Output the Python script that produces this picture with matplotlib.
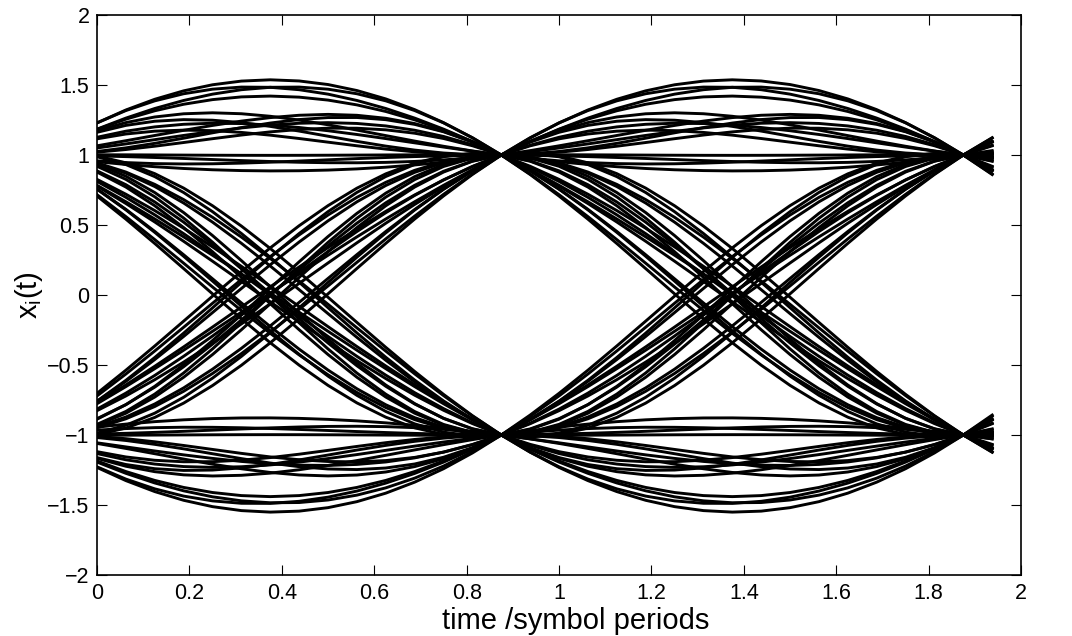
import numpy as np
import matplotlib
matplotlib.use("Agg")
import matplotlib.pyplot as plt

# transmitted binary sequence (de Bruijn order 6), mapped to +/-1 below
bits = "0000001000011000101000111001001011001101001111010101110110111111"

rolloff = 0.45          # raised-cosine roll-off
span = 6                # pulse truncated to +/- span symbols
samples_per_symbol = 16
trace_symbols = 2       # each trace covers two symbol periods
trace_offset = 0.125    # trace starts this far after a symbol instant

xticks = [0, 0.2, 0.4, 0.6, 0.8, 1, 1.2, 1.4, 1.6, 1.8, 2]
xtick_labels = ["0", "0.2", "0.4", "0.6", "0.8", "1", "1.2", "1.4", "1.6", "1.8", "2"]
yticks = [-2, -1.5, -1, -0.5, 0, 0.5, 1, 1.5, 2]
ytick_labels = ["\u22122", "\u22121.5", "\u22121", "\u22120.5", "0", "0.5", "1", "1.5", "2"]


def rc_pulse(t, beta):
    t = np.asarray(t, dtype=float)
    den = 1 - (2 * beta * t) ** 2
    sing = np.abs(den) < 1e-8
    out = np.sinc(t) * np.cos(np.pi * beta * t) / np.where(sing, 1, den)
    out[sing] = np.pi / 4 * np.sinc(1 / (2 * beta))
    out[np.abs(t) > span] = 0
    return out


symbols = np.array([1.0 if b == "1" else -1.0 for b in bits])
n = len(symbols)
# repeat cyclically so every trace has full ISI from neighbours
seq = np.tile(symbols, 3)
t_trace = np.arange(trace_symbols * samples_per_symbol) / samples_per_symbol

plt.rcParams["font.family"] = ["Liberation Sans", "DejaVu Sans"]
fig = plt.figure(figsize=(10.72, 6.36), dpi=100)
ax = fig.add_axes([0.0905, 0.0959, 0.862, 0.8805])

for k in range(n, 2 * n):
    tt = k + trace_offset + t_trace
    x = np.zeros_like(tt)
    for j in range(k - span - 1, k + span + 4):
        x += seq[j] * rc_pulse(tt - j, rolloff)
    ax.plot(t_trace, x, color="black", lw=2.1)

ax.set_xlim(0, 2)
ax.set_ylim(-2, 2)
ax.set_xticks(xticks)
ax.set_xticklabels(xtick_labels)
ax.set_yticks(yticks)
ax.set_yticklabels(ytick_labels)
ax.tick_params(direction="in", top=True, right=True, length=7, width=0.8,
               labelsize=15.5)
ax.tick_params(axis="x", pad=6)
ax.tick_params(axis="y", pad=5.5)
for s in ax.spines.values():
    s.set_linewidth(1.2)
ax.set_xlabel("time /symbol periods", fontsize=21)
ax.xaxis.set_label_coords(0.518, -0.058)
ax.set_ylabel("x$_\\mathregular{i}$(t)", fontsize=21)
ax.yaxis.set_label_coords(-0.056, 0.5)

fig.savefig("out.png", dpi=100)
